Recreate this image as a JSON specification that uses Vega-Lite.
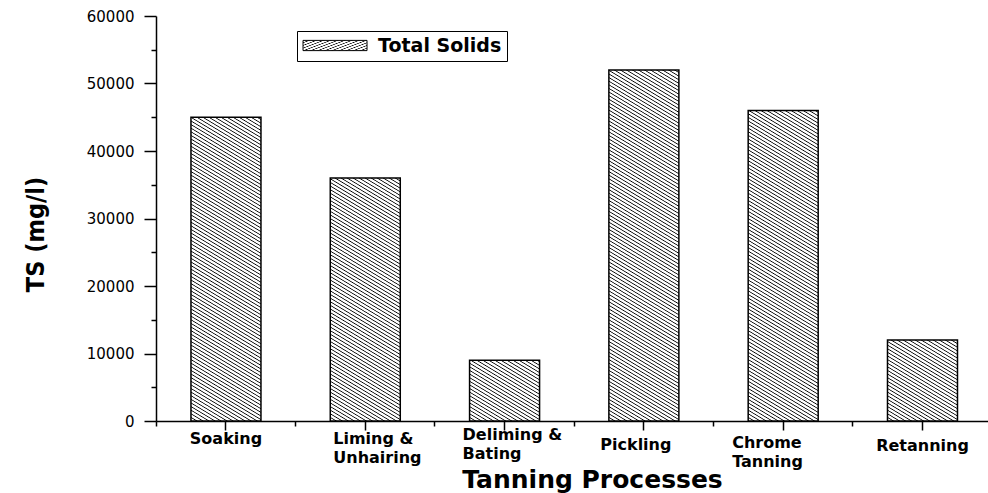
{
  "$schema": "https://vega.github.io/schema/vega-lite/v6.json",
  "width": 832,
  "height": 405,
  "autosize": {"type": "none"},
  "padding": {"left": 156, "top": 16, "right": 0, "bottom": 72},
  "background": "#ffffff",
  "params": [
    {"name": "hatch", "value": [
{"offset":0,"color":"#000"},{"offset":0.0023,"color":"#fff"},{"offset":0.0068,"color":"#fff"},
{"offset":0.0091,"color":"#000"},{"offset":0.0114,"color":"#fff"},{"offset":0.0159,"color":"#fff"},
{"offset":0.0182,"color":"#000"},{"offset":0.0205,"color":"#fff"},{"offset":0.025,"color":"#fff"},
{"offset":0.0273,"color":"#000"},{"offset":0.0295,"color":"#fff"},{"offset":0.0341,"color":"#fff"},
{"offset":0.0364,"color":"#000"},{"offset":0.0386,"color":"#fff"},{"offset":0.0432,"color":"#fff"},
{"offset":0.0455,"color":"#000"},{"offset":0.0477,"color":"#fff"},{"offset":0.0523,"color":"#fff"},
{"offset":0.0545,"color":"#000"},{"offset":0.0568,"color":"#fff"},{"offset":0.0614,"color":"#fff"},
{"offset":0.0636,"color":"#000"},{"offset":0.0659,"color":"#fff"},{"offset":0.0705,"color":"#fff"},
{"offset":0.0727,"color":"#000"},{"offset":0.075,"color":"#fff"},{"offset":0.0795,"color":"#fff"},
{"offset":0.0818,"color":"#000"},{"offset":0.0841,"color":"#fff"},{"offset":0.0886,"color":"#fff"},
{"offset":0.0909,"color":"#000"},{"offset":0.0932,"color":"#fff"},{"offset":0.0977,"color":"#fff"},
{"offset":0.1,"color":"#000"},{"offset":0.1023,"color":"#fff"},{"offset":0.1068,"color":"#fff"},
{"offset":0.1091,"color":"#000"},{"offset":0.1114,"color":"#fff"},{"offset":0.1159,"color":"#fff"},
{"offset":0.1182,"color":"#000"},{"offset":0.1205,"color":"#fff"},{"offset":0.125,"color":"#fff"},
{"offset":0.1273,"color":"#000"},{"offset":0.1295,"color":"#fff"},{"offset":0.1341,"color":"#fff"},
{"offset":0.1364,"color":"#000"},{"offset":0.1386,"color":"#fff"},{"offset":0.1432,"color":"#fff"},
{"offset":0.1455,"color":"#000"},{"offset":0.1477,"color":"#fff"},{"offset":0.1523,"color":"#fff"},
{"offset":0.1545,"color":"#000"},{"offset":0.1568,"color":"#fff"},{"offset":0.1614,"color":"#fff"},
{"offset":0.1636,"color":"#000"},{"offset":0.1659,"color":"#fff"},{"offset":0.1705,"color":"#fff"},
{"offset":0.1727,"color":"#000"},{"offset":0.175,"color":"#fff"},{"offset":0.1795,"color":"#fff"},
{"offset":0.1818,"color":"#000"},{"offset":0.1841,"color":"#fff"},{"offset":0.1886,"color":"#fff"},
{"offset":0.1909,"color":"#000"},{"offset":0.1932,"color":"#fff"},{"offset":0.1977,"color":"#fff"},
{"offset":0.2,"color":"#000"},{"offset":0.2023,"color":"#fff"},{"offset":0.2068,"color":"#fff"},
{"offset":0.2091,"color":"#000"},{"offset":0.2114,"color":"#fff"},{"offset":0.2159,"color":"#fff"},
{"offset":0.2182,"color":"#000"},{"offset":0.2205,"color":"#fff"},{"offset":0.225,"color":"#fff"},
{"offset":0.2273,"color":"#000"},{"offset":0.2295,"color":"#fff"},{"offset":0.2341,"color":"#fff"},
{"offset":0.2364,"color":"#000"},{"offset":0.2386,"color":"#fff"},{"offset":0.2432,"color":"#fff"},
{"offset":0.2455,"color":"#000"},{"offset":0.2477,"color":"#fff"},{"offset":0.2523,"color":"#fff"},
{"offset":0.2545,"color":"#000"},{"offset":0.2568,"color":"#fff"},{"offset":0.2614,"color":"#fff"},
{"offset":0.2636,"color":"#000"},{"offset":0.2659,"color":"#fff"},{"offset":0.2705,"color":"#fff"},
{"offset":0.2727,"color":"#000"},{"offset":0.275,"color":"#fff"},{"offset":0.2795,"color":"#fff"},
{"offset":0.2818,"color":"#000"},{"offset":0.2841,"color":"#fff"},{"offset":0.2886,"color":"#fff"},
{"offset":0.2909,"color":"#000"},{"offset":0.2932,"color":"#fff"},{"offset":0.2977,"color":"#fff"},
{"offset":0.3,"color":"#000"},{"offset":0.3023,"color":"#fff"},{"offset":0.3068,"color":"#fff"},
{"offset":0.3091,"color":"#000"},{"offset":0.3114,"color":"#fff"},{"offset":0.3159,"color":"#fff"},
{"offset":0.3182,"color":"#000"},{"offset":0.3205,"color":"#fff"},{"offset":0.325,"color":"#fff"},
{"offset":0.3273,"color":"#000"},{"offset":0.3295,"color":"#fff"},{"offset":0.3341,"color":"#fff"},
{"offset":0.3364,"color":"#000"},{"offset":0.3386,"color":"#fff"},{"offset":0.3432,"color":"#fff"},
{"offset":0.3455,"color":"#000"},{"offset":0.3477,"color":"#fff"},{"offset":0.3523,"color":"#fff"},
{"offset":0.3545,"color":"#000"},{"offset":0.3568,"color":"#fff"},{"offset":0.3614,"color":"#fff"},
{"offset":0.3636,"color":"#000"},{"offset":0.3659,"color":"#fff"},{"offset":0.3705,"color":"#fff"},
{"offset":0.3727,"color":"#000"},{"offset":0.375,"color":"#fff"},{"offset":0.3795,"color":"#fff"},
{"offset":0.3818,"color":"#000"},{"offset":0.3841,"color":"#fff"},{"offset":0.3886,"color":"#fff"},
{"offset":0.3909,"color":"#000"},{"offset":0.3932,"color":"#fff"},{"offset":0.3977,"color":"#fff"},
{"offset":0.4,"color":"#000"},{"offset":0.4023,"color":"#fff"},{"offset":0.4068,"color":"#fff"},
{"offset":0.4091,"color":"#000"},{"offset":0.4114,"color":"#fff"},{"offset":0.4159,"color":"#fff"},
{"offset":0.4182,"color":"#000"},{"offset":0.4205,"color":"#fff"},{"offset":0.425,"color":"#fff"},
{"offset":0.4273,"color":"#000"},{"offset":0.4295,"color":"#fff"},{"offset":0.4341,"color":"#fff"},
{"offset":0.4364,"color":"#000"},{"offset":0.4386,"color":"#fff"},{"offset":0.4432,"color":"#fff"},
{"offset":0.4455,"color":"#000"},{"offset":0.4477,"color":"#fff"},{"offset":0.4523,"color":"#fff"},
{"offset":0.4545,"color":"#000"},{"offset":0.4568,"color":"#fff"},{"offset":0.4614,"color":"#fff"},
{"offset":0.4636,"color":"#000"},{"offset":0.4659,"color":"#fff"},{"offset":0.4705,"color":"#fff"},
{"offset":0.4727,"color":"#000"},{"offset":0.475,"color":"#fff"},{"offset":0.4795,"color":"#fff"},
{"offset":0.4818,"color":"#000"},{"offset":0.4841,"color":"#fff"},{"offset":0.4886,"color":"#fff"},
{"offset":0.4909,"color":"#000"},{"offset":0.4932,"color":"#fff"},{"offset":0.4977,"color":"#fff"},
{"offset":0.5,"color":"#000"},{"offset":0.5023,"color":"#fff"},{"offset":0.5068,"color":"#fff"},
{"offset":0.5091,"color":"#000"},{"offset":0.5114,"color":"#fff"},{"offset":0.5159,"color":"#fff"},
{"offset":0.5182,"color":"#000"},{"offset":0.5205,"color":"#fff"},{"offset":0.525,"color":"#fff"},
{"offset":0.5273,"color":"#000"},{"offset":0.5295,"color":"#fff"},{"offset":0.5341,"color":"#fff"},
{"offset":0.5364,"color":"#000"},{"offset":0.5386,"color":"#fff"},{"offset":0.5432,"color":"#fff"},
{"offset":0.5455,"color":"#000"},{"offset":0.5477,"color":"#fff"},{"offset":0.5523,"color":"#fff"},
{"offset":0.5545,"color":"#000"},{"offset":0.5568,"color":"#fff"},{"offset":0.5614,"color":"#fff"},
{"offset":0.5636,"color":"#000"},{"offset":0.5659,"color":"#fff"},{"offset":0.5705,"color":"#fff"},
{"offset":0.5727,"color":"#000"},{"offset":0.575,"color":"#fff"},{"offset":0.5795,"color":"#fff"},
{"offset":0.5818,"color":"#000"},{"offset":0.5841,"color":"#fff"},{"offset":0.5886,"color":"#fff"},
{"offset":0.5909,"color":"#000"},{"offset":0.5932,"color":"#fff"},{"offset":0.5977,"color":"#fff"},
{"offset":0.6,"color":"#000"},{"offset":0.6023,"color":"#fff"},{"offset":0.6068,"color":"#fff"},
{"offset":0.6091,"color":"#000"},{"offset":0.6114,"color":"#fff"},{"offset":0.6159,"color":"#fff"},
{"offset":0.6182,"color":"#000"},{"offset":0.6205,"color":"#fff"},{"offset":0.625,"color":"#fff"},
{"offset":0.6273,"color":"#000"},{"offset":0.6295,"color":"#fff"},{"offset":0.6341,"color":"#fff"},
{"offset":0.6364,"color":"#000"},{"offset":0.6386,"color":"#fff"},{"offset":0.6432,"color":"#fff"},
{"offset":0.6455,"color":"#000"},{"offset":0.6477,"color":"#fff"},{"offset":0.6523,"color":"#fff"},
{"offset":0.6545,"color":"#000"},{"offset":0.6568,"color":"#fff"},{"offset":0.6614,"color":"#fff"},
{"offset":0.6636,"color":"#000"},{"offset":0.6659,"color":"#fff"},{"offset":0.6705,"color":"#fff"},
{"offset":0.6727,"color":"#000"},{"offset":0.675,"color":"#fff"},{"offset":0.6795,"color":"#fff"},
{"offset":0.6818,"color":"#000"},{"offset":0.6841,"color":"#fff"},{"offset":0.6886,"color":"#fff"},
{"offset":0.6909,"color":"#000"},{"offset":0.6932,"color":"#fff"},{"offset":0.6977,"color":"#fff"},
{"offset":0.7,"color":"#000"},{"offset":0.7023,"color":"#fff"},{"offset":0.7068,"color":"#fff"},
{"offset":0.7091,"color":"#000"},{"offset":0.7114,"color":"#fff"},{"offset":0.7159,"color":"#fff"},
{"offset":0.7182,"color":"#000"},{"offset":0.7205,"color":"#fff"},{"offset":0.725,"color":"#fff"},
{"offset":0.7273,"color":"#000"},{"offset":0.7295,"color":"#fff"},{"offset":0.7341,"color":"#fff"},
{"offset":0.7364,"color":"#000"},{"offset":0.7386,"color":"#fff"},{"offset":0.7432,"color":"#fff"},
{"offset":0.7455,"color":"#000"},{"offset":0.7477,"color":"#fff"},{"offset":0.7523,"color":"#fff"},
{"offset":0.7545,"color":"#000"},{"offset":0.7568,"color":"#fff"},{"offset":0.7614,"color":"#fff"},
{"offset":0.7636,"color":"#000"},{"offset":0.7659,"color":"#fff"},{"offset":0.7705,"color":"#fff"},
{"offset":0.7727,"color":"#000"},{"offset":0.775,"color":"#fff"},{"offset":0.7795,"color":"#fff"},
{"offset":0.7818,"color":"#000"},{"offset":0.7841,"color":"#fff"},{"offset":0.7886,"color":"#fff"},
{"offset":0.7909,"color":"#000"},{"offset":0.7932,"color":"#fff"},{"offset":0.7977,"color":"#fff"},
{"offset":0.8,"color":"#000"},{"offset":0.8023,"color":"#fff"},{"offset":0.8068,"color":"#fff"},
{"offset":0.8091,"color":"#000"},{"offset":0.8114,"color":"#fff"},{"offset":0.8159,"color":"#fff"},
{"offset":0.8182,"color":"#000"},{"offset":0.8205,"color":"#fff"},{"offset":0.825,"color":"#fff"},
{"offset":0.8273,"color":"#000"},{"offset":0.8295,"color":"#fff"},{"offset":0.8341,"color":"#fff"},
{"offset":0.8364,"color":"#000"},{"offset":0.8386,"color":"#fff"},{"offset":0.8432,"color":"#fff"},
{"offset":0.8455,"color":"#000"},{"offset":0.8477,"color":"#fff"},{"offset":0.8523,"color":"#fff"},
{"offset":0.8545,"color":"#000"},{"offset":0.8568,"color":"#fff"},{"offset":0.8614,"color":"#fff"},
{"offset":0.8636,"color":"#000"},{"offset":0.8659,"color":"#fff"},{"offset":0.8705,"color":"#fff"},
{"offset":0.8727,"color":"#000"},{"offset":0.875,"color":"#fff"},{"offset":0.8795,"color":"#fff"},
{"offset":0.8818,"color":"#000"},{"offset":0.8841,"color":"#fff"},{"offset":0.8886,"color":"#fff"},
{"offset":0.8909,"color":"#000"},{"offset":0.8932,"color":"#fff"},{"offset":0.8977,"color":"#fff"},
{"offset":0.9,"color":"#000"},{"offset":0.9023,"color":"#fff"},{"offset":0.9068,"color":"#fff"},
{"offset":0.9091,"color":"#000"},{"offset":0.9114,"color":"#fff"},{"offset":0.9159,"color":"#fff"},
{"offset":0.9182,"color":"#000"},{"offset":0.9205,"color":"#fff"},{"offset":0.925,"color":"#fff"},
{"offset":0.9273,"color":"#000"},{"offset":0.9295,"color":"#fff"},{"offset":0.9341,"color":"#fff"},
{"offset":0.9364,"color":"#000"},{"offset":0.9386,"color":"#fff"},{"offset":0.9432,"color":"#fff"},
{"offset":0.9455,"color":"#000"},{"offset":0.9477,"color":"#fff"},{"offset":0.9523,"color":"#fff"},
{"offset":0.9545,"color":"#000"},{"offset":0.9568,"color":"#fff"},{"offset":0.9614,"color":"#fff"},
{"offset":0.9636,"color":"#000"},{"offset":0.9659,"color":"#fff"},{"offset":0.9705,"color":"#fff"},
{"offset":0.9727,"color":"#000"},{"offset":0.975,"color":"#fff"},{"offset":0.9795,"color":"#fff"},
{"offset":0.9818,"color":"#000"},{"offset":0.9841,"color":"#fff"},{"offset":0.9886,"color":"#fff"},
{"offset":0.9909,"color":"#000"},{"offset":0.9932,"color":"#fff"},{"offset":0.9977,"color":"#fff"},
{"offset":1,"color":"#000"}
    ]}
  ],
  "data": {"values": [
    {"process": "Soaking", "TS": 45000},
    {"process": "Liming & Unhairing", "TS": 36000},
    {"process": "Deliming & Bating", "TS": 9000},
    {"process": "Pickling", "TS": 52000},
    {"process": "Chrome Tanning", "TS": 46000},
    {"process": "Retanning", "TS": 12000}
  ]},
  "layer": [
    {
      "mark": {
        "type": "bar",
        "fill": {"expr": "{gradient: 'linear', x1: 0, y1: 1, x2: 175.44 * bandwidth('x') / (0.2647 * pow(bandwidth('x'), 2) + 0.7353 * pow(scale('y', 0) - scale('y', datum.TS), 2)), y2: 1 - 292.41 * (scale('y', 0) - scale('y', datum.TS)) / (0.2647 * pow(bandwidth('x'), 2) + 0.7353 * pow(scale('y', 0) - scale('y', datum.TS), 2)), stops: hatch}"},
        "strokeWidth": 1.5
      },
      "encoding": {
        "x": {
          "field": "process", "type": "nominal", "sort": null,
          "scale": {"paddingInner": 0.4975, "paddingOuter": 0.235, "align": 0.534},
          "axis": {
            "orient": "bottom",
            "title": "Tanning Processes",
            "titleFont": "DejaVu Sans", "titleFontWeight": "bold", "titleFontSize": 25, "titleColor": "#000",
            "titleX": 436, "titleY": 66, "titleBaseline": "alphabetic", "titleAlign": "center", "titleAnchor": null,
            "labelExpr": "datum.value == 'Liming & Unhairing' ? ['Liming &', 'Unhairing'] : datum.value == 'Deliming & Bating' ? ['Deliming &', 'Bating'] : datum.value == 'Chrome Tanning' ? ['Chrome', 'Tanning'] : datum.label",
            "labelAngle": 0,
            "labelFont": "DejaVu Sans", "labelFontWeight": "bold", "labelFontSize": 16, "labelColor": "#000",
            "labelLineHeight": 19, "labelBaseline": "top", "labelOverlap": false, "labelLimit": 0,
            "labelAlign": {"expr": "(datum.value == 'Liming & Unhairing' || datum.value == 'Deliming & Bating' || datum.value == 'Chrome Tanning') ? 'left' : 'center'"},
            "labelOffset": {"expr": "datum.value == 'Liming & Unhairing' ? -32 : datum.value == 'Deliming & Bating' ? -42 : datum.value == 'Chrome Tanning' ? -51 : datum.value == 'Pickling' ? -8 : 0"},
            "labelPadding": {"expr": "datum.value == 'Pickling' ? 6 : datum.value == 'Retanning' ? 7 : datum.value == 'Chrome Tanning' ? 4 : datum.value == 'Deliming & Bating' ? -4 : 0"},
            "tickSize": 9, "tickColor": "#000", "tickWidth": 1.5,
            "domainColor": "#000", "domainWidth": 1.5, "grid": false
          }
        },
        "y": {
          "field": "TS", "type": "quantitative",
          "scale": {"domain": [0, 60000], "nice": false},
          "axis": {
            "orient": "left",
            "title": "TS (mg/l)",
            "titleFont": "Liberation Sans Narrow, DejaVu Sans Condensed, Roboto", "titleFontWeight": "bold", "titleFontSize": 25, "titleColor": "#000",
            "titleX": -113, "titleY": 218, "titleBaseline": "alphabetic", "titleAlign": "center", "titleAngle": -90, "titleAnchor": null,
            "values": [0, 10000, 20000, 30000, 40000, 50000, 60000],
            "format": "d",
            "labelFont": "DejaVu Sans", "labelFontSize": 15, "labelColor": "#000", "labelPadding": 10,
            "tickSize": 12, "tickColor": "#000", "tickWidth": 1.5,
            "domainColor": "#000", "domainWidth": 1.5, "grid": false
          }
        },
        "stroke": {
          "datum": "Total Solids",
          "scale": {"range": ["#000"]},
          "legend": {
            "title": null, "orient": "none", "legendX": 141, "legendY": 15,
            "strokeColor": "#000", "padding": 5,
            "symbolType": "M-1.06,-0.64H6.94V0.64H-1.06Z", "symbolSize": 256, "symbolStrokeWidth": 1,
            "labelFont": "DejaVu Sans", "labelFontWeight": "bold", "labelFontSize": 19, "labelColor": "#000", "labelOffset": 57,
            "encode": {
              "symbols": {"update": {
                "fill": {"signal": "{gradient: 'linear', x1: 0, y1: 1, x2: 9.674, y2: -1.57, stops: hatch}"},
                "stroke": {"value": "#000"},
                "opacity": {"value": 1}
              }}
            }
          }
        }
      }
    },
    {
      "mark": {"type": "bar", "opacity": 0},
      "encoding": {
        "x": {
          "field": "process", "type": "nominal", "sort": null,
          "axis": {
            "orient": "bottom", "bandPosition": -0.495, "tickSize": 5, "tickColor": "#000", "tickWidth": 1.5,
            "labels": false, "domain": false, "title": null, "grid": false
          }
        },
        "y": {
          "field": "TS", "type": "quantitative",
          "axis": {
            "orient": "left", "values": [5000, 15000, 25000, 35000, 45000, 55000],
            "tickSize": 5, "tickColor": "#000", "tickWidth": 1.5,
            "labels": false, "domain": false, "title": null, "grid": false
          }
        }
      }
    }
  ],
  "resolve": {"axis": {"x": "independent", "y": "independent"}},
  "config": {"view": {"stroke": null}}
}
